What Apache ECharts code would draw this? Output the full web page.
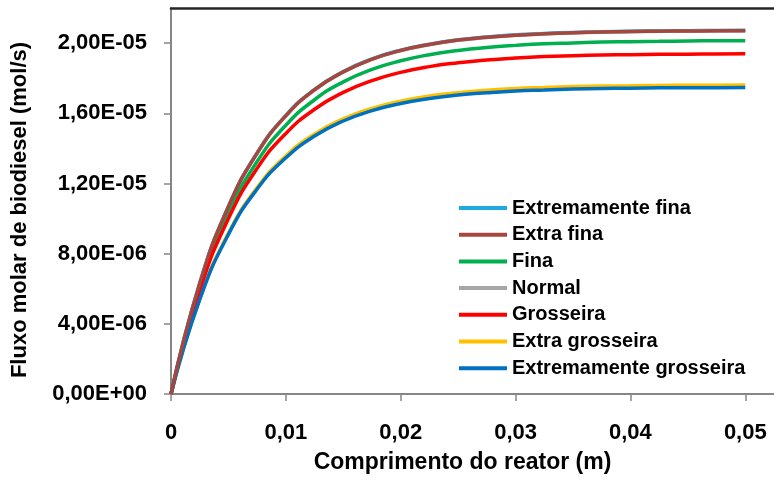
<!DOCTYPE html>
<html>
<head>
<meta charset="utf-8">
<script src="https://cdn.jsdelivr.net/npm/echarts@6/dist/echarts.min.js"></script>
<style>
  html, body { margin: 0; padding: 0; background: #fff; }
  #chart { width: 774px; height: 480px; }
</style>
</head>
<body>
<div id="chart"></div>
<script>
// comprimento do reator (m)
var xs = [0, 0.0025, 0.005, 0.0075, 0.01, 0.0125, 0.015, 0.0175, 0.02, 0.0225, 0.025,
  0.0275, 0.03, 0.0325, 0.035, 0.0375, 0.04, 0.0425, 0.045, 0.0475, 0.05]

// fluxo molar, em 1e-6 mol/s
var extremamenteFina = [0, 6.32, 10.70, 13.75, 15.88, 17.36, 18.38, 19.10, 19.60, 19.94, 20.19,
  20.35, 20.47, 20.55, 20.61, 20.65, 20.68, 20.70, 20.71, 20.72, 20.73]
var extraFina = [0, 6.30, 10.68, 13.73, 15.86, 17.34, 18.36, 19.08, 19.58, 19.92, 20.17,
  20.33, 20.45, 20.53, 20.59, 20.63, 20.66, 20.68, 20.69, 20.70, 20.71]
var fina = [0, 6.05, 10.29, 13.25, 15.32, 16.77, 17.79, 18.50, 18.99, 19.34, 19.58,
  19.75, 19.87, 19.96, 20.01, 20.06, 20.08, 20.10, 20.12, 20.13, 20.13]
var normal = [0, 6.29, 10.67, 13.72, 15.85, 17.33, 18.35, 19.07, 19.57, 19.91, 20.16,
  20.32, 20.44, 20.52, 20.58, 20.62, 20.65, 20.67, 20.68, 20.69, 20.70]
var grosseira = [0, 5.90, 10.00, 12.86, 14.85, 16.23, 17.19, 17.86, 18.33, 18.66, 18.88,
  19.04, 19.15, 19.23, 19.28, 19.32, 19.34, 19.36, 19.37, 19.38, 19.39]
var extraGrosseira = [0, 5.42, 9.17, 11.77, 13.57, 14.82, 15.68, 16.28, 16.69, 16.98, 17.17,
  17.31, 17.41, 17.47, 17.52, 17.55, 17.57, 17.59, 17.60, 17.60, 17.61]
var extremamenteGrosseira = [0, 5.38, 9.10, 11.68, 13.46, 14.70, 15.56, 16.15, 16.56, 16.84, 17.04,
  17.17, 17.27, 17.33, 17.38, 17.41, 17.43, 17.45, 17.46, 17.46, 17.47]

var yTicks = [0, 4e-6, 8e-6, 1.2e-5, 1.6e-5, 2e-5]
var xTicks = [0, 0.01, 0.02, 0.03, 0.04, 0.05]

var names = ['Extremamente fina', 'Extra fina', 'Fina', 'Normal', 'Grosseira', 'Extra grosseira', 'Extremamente grosseira']
var colors = ['#1FA8E0', '#A4473F', '#00B050', '#A6A6A6', '#FF0000', '#FFC000', '#0070C0']
var values = [extremamenteFina, extraFina, fina, normal, grosseira, extraGrosseira, extremamenteGrosseira]
var zs = [2, 5, 4, 3, 4, 3, 4] // a marrom fica por cima

var FONT = '"Liberation Sans", Arial, sans-serif'

function fmtY (v) {
  var s = Number(v).toExponential(2) // 2.00e-5
  var parts = s.split('e')
  var exp = parseInt(parts[1], 10)
  var sign = exp < 0 ? '-' : '+'
  var e = Math.abs(exp)
  return parts[0].replace('.', ',') + 'E' + sign + (e < 10 ? '0' + e : e)
}
function fmtX (v) {
  if (v === 0) return '0'
  return Number(v).toFixed(2).replace('.', ',')
}

var chart = echarts.init(document.getElementById('chart'))

var series = names.map(function (name, i) {
  return {
    name: name,
    type: 'line',
    smooth: true,
    symbol: 'none',
    z: zs[i],
    lineStyle: { color: colors[i], width: 3.5 },
    itemStyle: { color: colors[i] },
    data: xs.map(function (x, j) { return [x, values[i][j] * 1e-6] })
  }
})

var option = {
  animation: false,
  grid: { left: 171, right: 0, top: 8, bottom: 86 },
  legend: {
    data: names,
    orient: 'vertical',
    left: 454,
    top: 193,
    icon: 'rect',
    itemWidth: 48,
    itemHeight: 4,
    itemGap: 6.7,
    textStyle: { fontFamily: FONT, fontSize: 20, fontWeight: 'bold', color: '#000', lineHeight: 20 }
  },
  xAxis: [{
    type: 'value',
    min: 0,
    max: 0.0525,
    interval: 0.01,
    name: 'Comprimento do reator (m)',
    nameLocation: 'middle',
    nameGap: 57,
    nameTextStyle: { fontFamily: FONT, fontSize: 23, fontWeight: 'bold', color: '#000', padding: [0, 20, 0, 0] },
    axisLine: { show: true, lineStyle: { color: '#868686', width: 2 } },
    axisTick: { show: true, inside: false, length: 7, customValues: xTicks, lineStyle: { color: '#868686', width: 1.5 } },
    axisLabel: { margin: 28, customValues: xTicks, formatter: fmtX, fontFamily: FONT, fontSize: 22, fontWeight: 'bold', color: '#000' },
    splitLine: { show: false }
  }, {
    type: 'value',
    position: 'top',
    min: 0,
    max: 0.0525,
    axisLine: { show: true, lineStyle: { color: '#262626', width: 2.5 } },
    axisTick: { show: false },
    axisLabel: { show: false },
    splitLine: { show: false }
  }],
  yAxis: {
    type: 'value',
    min: 0,
    max: 2.2e-5,
    interval: 4e-6,
    name: 'Fluxo molar de biodiesel (mol/s)',
    nameLocation: 'middle',
    nameGap: 140,
    nameTextStyle: { fontFamily: FONT, fontSize: 22, fontWeight: 'bold', color: '#000', padding: [0, 18, 0, 0] },
    axisLine: { show: true, lineStyle: { color: '#868686', width: 2 } },
    axisTick: { show: true, inside: false, length: 7, customValues: yTicks, lineStyle: { color: '#868686', width: 1.5 } },
    axisLabel: { margin: 24, customValues: yTicks, formatter: fmtY, fontFamily: FONT, fontSize: 22, fontWeight: 'bold', color: '#000' },
    splitLine: { show: false }
  },
  series: series
}

chart.setOption(option)
</script>
</body>
</html>
